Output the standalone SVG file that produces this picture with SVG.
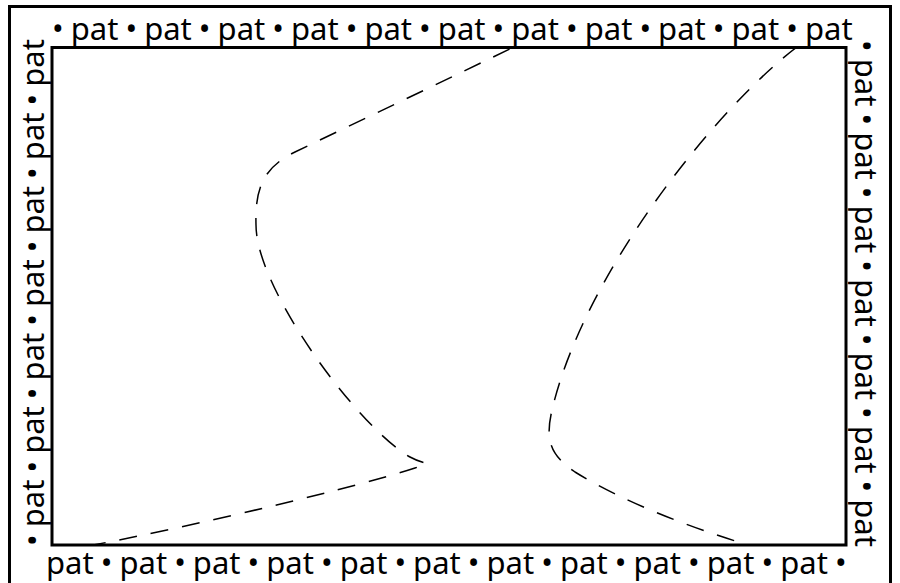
<svg xmlns="http://www.w3.org/2000/svg" width="900" height="583" viewBox="0 0 900 583">
  <style>
    .frame { fill: none; stroke: #000; stroke-width: 3; }
    .lbl { font-family: "Noto Sans", "Open Sans", sans-serif; font-size: 31px; word-spacing: -1px; fill: #000; }
    .curve { fill: none; stroke: #000; stroke-width: 1.5; stroke-dasharray: 18 14; }
  </style>
  <defs>
    <clipPath id="inner">
      <rect x="52" y="47.5" width="794" height="497.5"/>
    </clipPath>
  </defs>
  <rect width="900" height="583" fill="#fff"/>
  <g id="outer-frame">
    <rect class="frame" x="9.5" y="6.5" width="881" height="600"/>
  </g>
  <g id="curves" clip-path="url(#inner)">
    <path class="curve" d="M 88 546 C 200 525 360 486 415 468 C 435 461 426 466 410 457 C 360 429 256 290 256 225 C 255 190 262 168 295 152 C 370 116 450 78 520 44"/>
    <path class="curve" d="M 797 47 C 720 105 585 270 552 410 C 545 440 550 455 575 472 C 620 500 690 528 752 546"/>
  </g>
  <g id="inner-frame">
    <rect class="frame" x="52" y="47.5" width="794" height="497.5"/>
  </g>
  <g id="labels">
    <text id="label-top" class="lbl" x="52" y="40">• pat • pat • pat • pat • pat • pat • pat • pat • pat • pat • pat</text>
    <text id="label-right" class="lbl" transform="translate(855,40) rotate(90)">• pat • pat • pat • pat • pat • pat • pat</text>
    <text id="label-bottom" class="lbl" x="46" y="574">pat • pat • pat • pat • pat • pat • pat • pat • pat • pat • pat •</text>
    <text id="label-left" class="lbl" transform="translate(44,546) rotate(-90)">• pat • pat • pat • pat • pat • pat • pat</text>
  </g>
</svg>
